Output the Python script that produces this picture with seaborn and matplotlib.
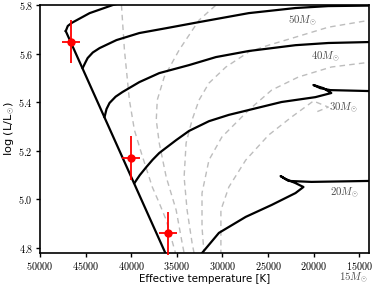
import pandas as pd
import matplotlib
matplotlib.use('Agg')
import matplotlib.pyplot as plt
import seaborn as sns
from matplotlib.ticker import FuncFormatter

# zero-age main sequence
zams_teff = [47166, 34195]
zams_logl = [5.693, 4.607]

# evolutionary tracks (Teff [K], log L/Lsun)
trk60_teff = [47166, 46948, 46500, 45967, 44550, 42043, 38010]
trk60_logl = [5.693, 5.714, 5.727, 5.738, 5.767, 5.800, 5.841]
trk50_teff = [45313, 45000, 44768, 44200, 43460, 41607, 39100, 36157, 32560, 27110, 21987, 18390, 13812, 12000]
trk50_logl = [5.541, 5.565, 5.582, 5.605, 5.623, 5.656, 5.685, 5.705, 5.730, 5.767, 5.788, 5.796, 5.798, 5.799]
trk40_teff = [42915, 42700, 42370, 41700, 40953, 39100, 36920, 33650, 30707, 27110, 21987, 18390, 13812, 12000]
trk40_logl = [5.339, 5.372, 5.397, 5.423, 5.442, 5.483, 5.520, 5.553, 5.586, 5.611, 5.635, 5.644, 5.648, 5.649]
trk30_teff = [39645, 39050, 38337, 37650, 36920, 35067, 33650, 31470, 29290, 27110, 23513, 19807, 18063,
              18935, 20025, 19262, 18172, 13812, 12000]
trk30_logl = [5.067, 5.100, 5.133, 5.163, 5.191, 5.244, 5.282, 5.322, 5.348, 5.368, 5.401, 5.421, 5.438,
              5.458, 5.471, 5.458, 5.450, 5.446, 5.446]
trk20_teff = [34849, 32233, 30380, 27437, 24603, 21987, 21115, 21987, 23077, 23622,
              22750, 20243, 13812, 12000]
trk20_logl = [4.668, 4.779, 4.862, 4.928, 4.977, 5.026, 5.051, 5.067, 5.084, 5.096,
              5.076, 5.072, 5.076, 5.077]

# isochrones
iso1_teff = [41062, 40735, 40190, 39645, 38882, 37683, 36920, 36157, 35176, 34849]
iso1_logl = [5.800, 5.615, 5.409, 5.286, 5.191, 5.051, 4.985, 4.915, 4.784, 4.730]
iso2_teff = [29835, 30707, 32560, 34740, 36375, 37138, 37247, 36920, 36157, 35067, 34413, 34195, 34086]
iso2_logl = [5.829, 5.800, 5.738, 5.615, 5.504, 5.409, 5.327, 5.232, 5.092, 4.956, 4.821, 4.779, 4.730]
iso3_teff = [13000, 13812, 18390, 21987, 24930, 27110, 29617, 31470, 32560, 33323, 33977,
             34195, 33868, 33323, 33105, 32996]
iso3_logl = [5.741, 5.738, 5.709, 5.668, 5.635, 5.607, 5.545, 5.479, 5.409, 5.327, 5.232,
             5.092, 4.956, 4.821, 4.779, 4.730]
iso4_teff = [13000, 13812, 18063, 21660, 24603, 27110, 30053, 31470, 32233, 32233, 32015, 31906]
iso4_logl = [5.568, 5.565, 5.545, 5.504, 5.450, 5.368, 5.257, 5.162, 5.026, 4.886, 4.779, 4.730]
iso5_teff = [30162, 30162, 30162, 29290, 27437, 24930, 22423, 20025, 18390, 19698]
iso5_logl = [4.730, 4.779, 4.956, 5.051, 5.162, 5.265, 5.339, 5.405, 5.380, 5.360]

# observed stars
obs_teff = [46600, 40000, 36000]
obs_logl = [5.65, 5.17, 4.86]
obs_teff_err = [1000, 1000, 1000]
obs_logl_err = [0.09, 0.09, 0.09]

# mass labels
mass_labels = ['$50M_{\\odot}$', '$40M_{\\odot}$', '$30M_{\\odot}$', '$20M_{\\odot}$', '$15M_{\\odot}$']
mass_teff = [21224, 18717, 16755, 16646, 15665]
mass_logl = [5.734, 5.586, 5.376, 5.026, 4.675]

plt.rcParams['mathtext.fontset'] = 'cm'
plt.rcParams['font.family'] = ['DejaVu Sans']

tracks = pd.concat([
    pd.DataFrame({'teff': t, 'logl': l, 'trk': n})
    for n, t, l in [('zams', zams_teff, zams_logl), ('60', trk60_teff, trk60_logl),
                    ('50', trk50_teff, trk50_logl), ('40', trk40_teff, trk40_logl),
                    ('30', trk30_teff, trk30_logl), ('20', trk20_teff, trk20_logl)]
])
isos = pd.concat([
    pd.DataFrame({'teff': t, 'logl': l, 'iso': n})
    for n, t, l in [(1, iso1_teff, iso1_logl), (2, iso2_teff, iso2_logl), (3, iso3_teff, iso3_logl),
                    (4, iso4_teff, iso4_logl), (5, iso5_teff, iso5_logl)]
])

fig, ax = plt.subplots(figsize=(3.73, 2.84), dpi=100)
fig.subplots_adjust(left=0.107, right=0.99, bottom=0.109, top=0.982)

sns.lineplot(data=isos, x='teff', y='logl', units='iso', estimator=None, sort=False,
             color='#bdbdbd', lw=1.0, linestyle=(0, (4, 3)), ax=ax, zorder=1)
sns.lineplot(data=tracks, x='teff', y='logl', units='trk', estimator=None, sort=False,
             color='black', lw=1.6, ax=ax, zorder=2)

ax.errorbar(obs_teff, obs_logl, xerr=obs_teff_err, yerr=obs_logl_err, fmt='o', color='red',
            ms=5, elinewidth=1.3, capsize=0, zorder=5, clip_on=False)

for lab, t, l in zip(mass_labels, mass_teff, mass_logl):
    ax.text(t, l, lab, fontsize=7.8, color='0.3', ha='center', va='center', clip_on=False)

ax.set_xlim(50000, 13900)
ax.set_ylim(4.779, 5.8)
ax.set_xticks(range(50000, 14999, -5000))
ax.set_yticks([4.8, 5.0, 5.2, 5.4, 5.6, 5.8])
ax.xaxis.set_major_formatter(FuncFormatter(lambda v, p: f'${v:.0f}$'))
ax.yaxis.set_major_formatter(FuncFormatter(lambda v, p: f'${v:.1f}$'))
ax.tick_params(labelsize=7.3, length=3, width=1, pad=2)
for s in ax.spines.values():
    s.set_linewidth(1.2)
ax.set_xlabel('Effective temperature [K]', fontsize=7.4, labelpad=1.5)
ax.set_ylabel('log (L/L$_{\\odot}$)', fontsize=8.2, labelpad=1)

plt.savefig('out.png', dpi=100)
